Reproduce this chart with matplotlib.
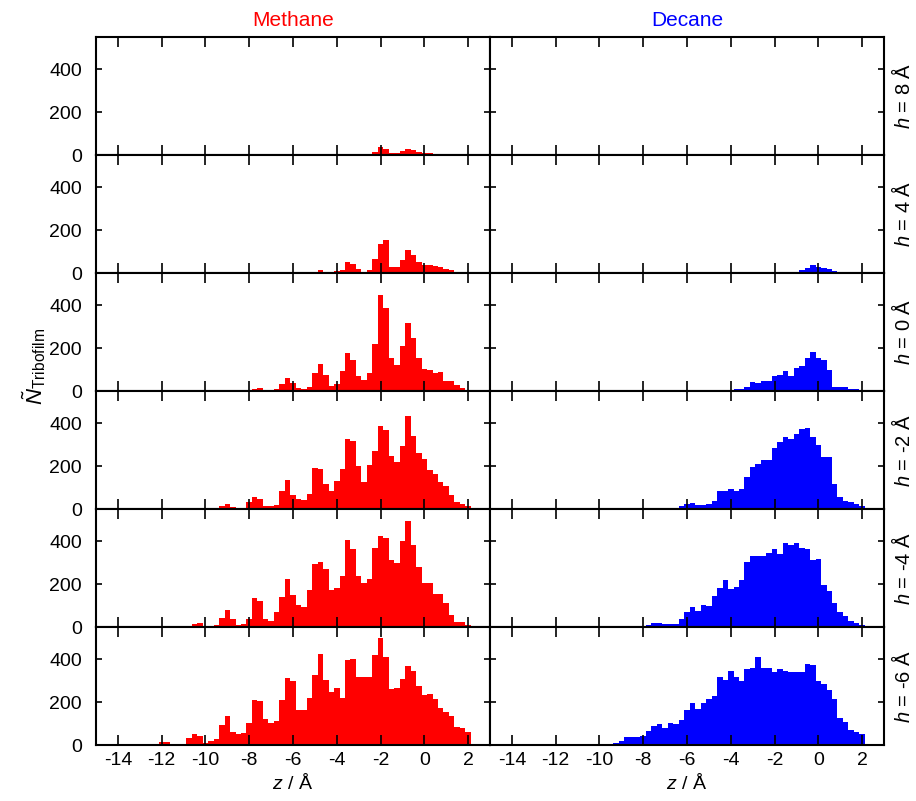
import numpy as np
import matplotlib
matplotlib.use('Agg')
import matplotlib.pyplot as plt

plt.rcParams['font.family'] = ['Liberation Sans', 'DejaVu Sans']
plt.rcParams['mathtext.fontset'] = 'custom'
plt.rcParams['mathtext.rm'] = 'Liberation Sans'
plt.rcParams['mathtext.it'] = 'Liberation Sans:italic'
plt.rcParams['axes.unicode_minus'] = False

# bin centres, 0.25 A wide bins from -14 to 2
z = np.arange(-14.0, 2.01, 0.25)

h_labels = ['8', '4', '0', '-2', '-4', '-6']

# Methane, one list per h (groups of 4 bins per Angstrom)
methane_h8 = [0, 0, 0, 0,  0, 0, 0, 0,  0, 0, 0, 0,  0, 0, 0, 0,
              0, 0, 0, 0,  0, 0, 0, 0,  0, 0, 0, 0,  0, 0, 0, 0,
              0, 0, 0, 0,  0, 0, 0, 0,  0, 0, 0, 5,  5, 2, 3, 15,
              38, 28, 8, 8,  20, 28, 23, 14,  9, 8, 5, 3,  0, 0, 0, 0,
              0]
methane_h4 = [0, 0, 0, 0,  0, 0, 0, 0,  0, 0, 0, 0,  0, 0, 0, 0,
              0, 0, 0, 0,  0, 0, 0, 0,  0, 0, 0, 0,  0, 0, 0, 0,
              0, 0, 0, 2,  6, 16, 6, 3,  11, 12, 50, 44,  17, 6, 12, 66,
              133, 153, 28, 28,  62, 109, 86, 52,  39, 39, 31, 27,  19, 12, 5, 2,
              0]
methane_h0 = [0, 0, 0, 0,  0, 0, 0, 0,  0, 0, 0, 0,  0, 0, 0, 0,
              0, 0, 0, 0,  0, 0, 0, 0,  0, 8, 12, 0,  2, 8, 31, 59,
              36, 16, 9, 20,  82, 126, 76, 23,  34, 93, 175, 143,  71, 51, 82, 217,
              446, 389, 152, 119,  209, 315, 245, 155,  102, 98, 84, 87,  48, 48, 26, 12,
              5]
methane_hm2 = [0, 0, 0, 0,  0, 0, 0, 0,  0, 0, 0, 0,  0, 0, 5, 0,
               0, 0, 5, 12,  25, 9, 6, 6,  31, 54, 48, 15,  12, 20, 85, 136,
               66, 46, 43, 71,  189, 185, 115, 82,  132, 186, 325, 316,  200, 128, 205, 270,
               387, 370, 248, 220,  293, 433, 340, 259,  233, 182, 163, 125,  109, 66, 32, 23,
               12]
methane_hm4 = [0, 0, 0, 0,  0, 0, 0, 0,  0, 0, 5, 0,  0, 5, 12, 19,
               0, 0, 8, 42,  78, 36, 8, 14,  36, 135, 119, 36,  26, 70, 140, 222,
               147, 101, 91, 171,  295, 302, 271, 171,  183, 236, 406, 364,  236, 205, 225, 369,
               426, 415, 310, 299,  400, 496, 384, 279,  206, 205, 155, 155,  113, 54, 23, 23,
               8]
methane_hm6 = [0, 0, 0, 5,  0, 0, 0, 0,  12, 12, 6, 3,  3, 31, 50, 43,
               8, 17, 28, 93,  133, 59, 50, 56,  101, 209, 206, 121,  102, 113, 211, 313,
               299, 164, 161, 217,  326, 423, 302, 245,  268, 220, 395, 403,  318, 315, 318, 420,
               501, 412, 260, 264,  307, 369, 346, 276,  234, 240, 214, 172,  155, 133, 85, 81,
               62]

# Decane
decane_h8 = [0, 0, 0, 0,  0, 0, 0, 0,  0, 0, 0, 0,  0, 0, 0, 0,
             0, 0, 0, 0,  0, 0, 0, 0,  0, 0, 0, 0,  0, 0, 0, 0,
             0, 0, 0, 0,  0, 0, 0, 0,  0, 0, 0, 0,  0, 0, 0, 0,
             0, 0, 0, 0,  0, 0, 3, 4,  4, 3, 0, 0,  0, 0, 0, 0,
             0]
decane_h4 = [0, 0, 0, 0,  0, 0, 0, 0,  0, 0, 0, 0,  0, 0, 0, 0,
             0, 0, 0, 0,  0, 0, 0, 0,  0, 0, 0, 0,  0, 0, 0, 0,
             0, 0, 0, 0,  0, 0, 0, 0,  0, 0, 0, 0,  0, 0, 0, 0,
             0, 0, 0, 3,  6, 12, 25, 38,  30, 22, 20, 8,  3, 0, 0, 0,
             0]
decane_h0 = [0, 0, 0, 0,  0, 0, 0, 0,  0, 0, 0, 0,  0, 0, 0, 0,
             0, 0, 0, 0,  0, 0, 0, 0,  0, 0, 0, 0,  0, 0, 0, 0,
             0, 0, 0, 0,  0, 0, 0, 3,  5, 8, 9, 20,  42, 39, 48, 48,
             70, 73, 95, 70,  105, 116, 152, 183,  152, 144, 98, 20,  20, 20, 8, 8,
             3]
decane_hm2 = [0, 0, 0, 0,  0, 0, 0, 0,  0, 0, 0, 0,  0, 0, 0, 0,
              0, 0, 0, 0,  0, 0, 0, 0,  0, 0, 0, 5,  0, 0, 5, 12,
              25, 28, 20, 20,  25, 38, 82, 82,  91, 82, 92, 148,  194, 211, 228, 228,
              286, 313, 334, 328,  348, 374, 377, 336,  300, 243, 243, 115,  54, 38, 31, 23,
              12]
decane_hm4 = [0, 0, 0, 0,  0, 0, 0, 0,  0, 0, 0, 0,  0, 0, 0, 0,
              0, 0, 0, 0,  0, 0, 0, 3,  5, 8, 20, 17,  15, 15, 15, 36,
              70, 93, 74, 101,  96, 143, 183, 220,  175, 186, 217, 302,  330, 330, 330, 344,
              364, 338, 391, 383,  391, 366, 364, 313,  318, 198, 170, 113,  70, 50, 28, 20,
              11]
decane_hm6 = [0, 0, 0, 0,  0, 0, 0, 0,  0, 0, 0, 0,  0, 0, 0, 0,
              0, 3, 5, 9,  20, 39, 36, 36,  43, 67, 90, 98,  78, 101, 98, 116,
              164, 198, 167, 195,  214, 229, 315, 304,  346, 318, 299, 353,  358, 412, 361, 361,
              338, 353, 346, 341,  341, 341, 377, 374,  296, 284, 257, 214,  124, 105, 70, 59,
              51]

methane = [methane_h8, methane_h4, methane_h0, methane_hm2, methane_hm4, methane_hm6]
decane = [decane_h8, decane_h4, decane_h0, decane_hm2, decane_hm4, decane_hm6]

W, H = 916, 801
fig = plt.figure(figsize=(W / 100, H / 100), dpi=100)

x0 = [96, 490]
pw = 394
top = 37
ph = 118

for r in range(6):
    for c in range(2):
        ax = fig.add_axes([x0[c] / W, (H - top - ph * (r + 1)) / H, pw / W, ph / H])
        vals = methane[r] if c == 0 else decane[r]
        col = '#ff0000' if c == 0 else '#0000ff'
        ax.bar(z, vals, width=0.25, color=col, edgecolor='none', linewidth=0)
        ax.set_xlim(-15, 3)
        ax.set_ylim(0, 550)
        ax.set_xticks(np.arange(-14, 3, 2))
        ax.set_yticks([0, 200, 400])
        for s in ax.spines.values():
            s.set_linewidth(1.5)
        ax.tick_params(axis='x', direction='in', top=True, bottom=True, length=7, width=1.2,
                       labelsize=14, pad=5)
        ax.tick_params(axis='y', direction='in', left=True, right=True, length=4.5, width=1.2,
                       labelsize=14, pad=10)
        if c == 1:
            ax.set_yticklabels([])
        if r < 5:
            ax.set_xticklabels([])
        else:
            ax.set_xlabel(r'$z$ / Å', fontsize=14, labelpad=3)
        if r == 0:
            ax.set_title('Methane' if c == 0 else 'Decane', color=col, fontsize=15, pad=8)
    # h label on the right
    fig.text(903 / W, 1 - (top + ph * r + ph / 2) / H, r'$h$ = ' + h_labels[r] + ' Å',
             rotation=90, ha='center', va='center', fontsize=14.5)

fig.text(34 / W, 1 - 366 / H, r'$\tilde{N}_{\mathrm{Tribofilm}}$', rotation=90,
         ha='center', va='center', fontsize=16)

fig.savefig('out.png', dpi=100)
